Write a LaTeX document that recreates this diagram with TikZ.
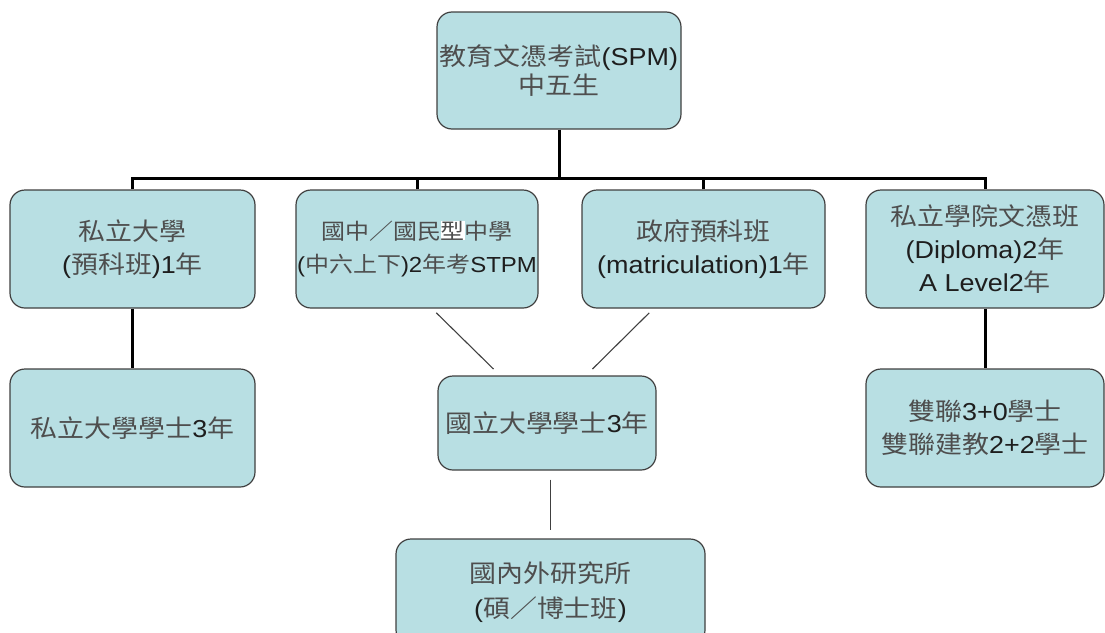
\documentclass[tikz,border=0pt]{standalone}
\usepackage{fontspec}
\setmainfont{Liberation Sans}[FakeStretch=1.1]
\newfontfamily\cjk{Noto Sans CJK TC}[FakeStretch=1.1]
\definecolor{boxfill}{RGB}{184,223,227}
\definecolor{boxline}{RGB}{64,64,64}
\definecolor{cjkgray}{RGB}{78,78,78}
\definecolor{latinblack}{RGB}{30,30,30}
\newcommand{\zh}[1]{{\cjk\color{cjkgray}#1}}
\begin{document}
\begin{tikzpicture}[x=1pt,y=-1pt,
  box/.style={draw=boxline,line width=1.2pt,fill=boxfill,rounded corners=15pt,
    align=center,inner sep=0pt,text=latinblack,font=\fontsize{24.5}{33}\selectfont},
  bus/.style={line width=3pt,black},
  link/.style={line width=1.1pt,boxline}]
\useasboundingbox (0,0) rectangle (1105,632);
\clip (0,0) rectangle (1105,632);
% 上層
\node[box,minimum width=244pt,minimum height=117pt,font=\fontsize{24.5}{29}\selectfont] (spm) at (559,70.5)
  {\zh{教育文憑考試}(SPM)\\\zh{中五生}};
% 中層
\node[box,minimum width=245pt,minimum height=118pt] (privpre) at (132.5,249)
  {\zh{私立大學}\\(\zh{預科班})1\zh{年}};
\node[box,minimum width=242pt,minimum height=118pt,font=\fontsize{21.8}{33}\selectfont] (stpm) at (417,249)
  {\zh{國中／國民}{\fboxsep=0pt\colorbox{white}{\zh{型}}}\zh{中學}\\(\zh{中六上下})2\zh{年考}STPM};
\node[box,minimum width=243pt,minimum height=118pt] (matric) at (703.5,249)
  {\zh{政府預科班}\\(matriculation)1\zh{年}};
\node[box,minimum width=238pt,minimum height=118pt] (dipl) at (985,249)
  {\zh{私立學院文憑班}\\(Diploma)2\zh{年}\\A Level2\zh{年}};
% 下層
\node[box,minimum width=245pt,minimum height=118pt] (privdeg) at (132.5,428)
  {\zh{私立大學學士}3\zh{年}};
\node[box,minimum width=218pt,minimum height=94pt] (natdeg) at (547,423)
  {\zh{國立大學學士}3\zh{年}};
\node[box,minimum width=238pt,minimum height=118pt] (twin) at (985,428)
  {\zh{雙聯}3+0\zh{學士}\\\zh{雙聯建教}2+2\zh{學士}};
\node[box,minimum width=309pt,minimum height=106pt,font=\fontsize{24.5}{35}\selectfont] (grad) at (550.5,592)
  {\zh{國內外研究所}\\(\zh{碩／博士班})};
% 橫線
\coordinate (busline) at (0,178);
\draw[bus] (spm.south) -- (spm.south |- busline);
\draw[bus] (privpre.north) |- (dipl.north |- busline) -- (dipl.north);
\draw[bus] (stpm.north) -- (stpm.north |- busline);
\draw[bus] (matric.north) -- (matric.north |- busline);
\draw[bus] (privpre.south) -- (privdeg.north);
\draw[bus] (dipl.south) -- (twin.north);
% 細線
\draw[link,shorten <=6pt,shorten >=9pt] ([xshift=15pt]stpm.south) -- ([xshift=-47pt]natdeg.north);
\draw[link,shorten <=6pt,shorten >=9pt] ([xshift=-50pt]matric.south) -- ([xshift=39pt]natdeg.north);
\draw[link,shorten <=9pt,shorten >=8pt] (natdeg.south -| grad.north) -- (grad.north);
\end{tikzpicture}
\end{document}
